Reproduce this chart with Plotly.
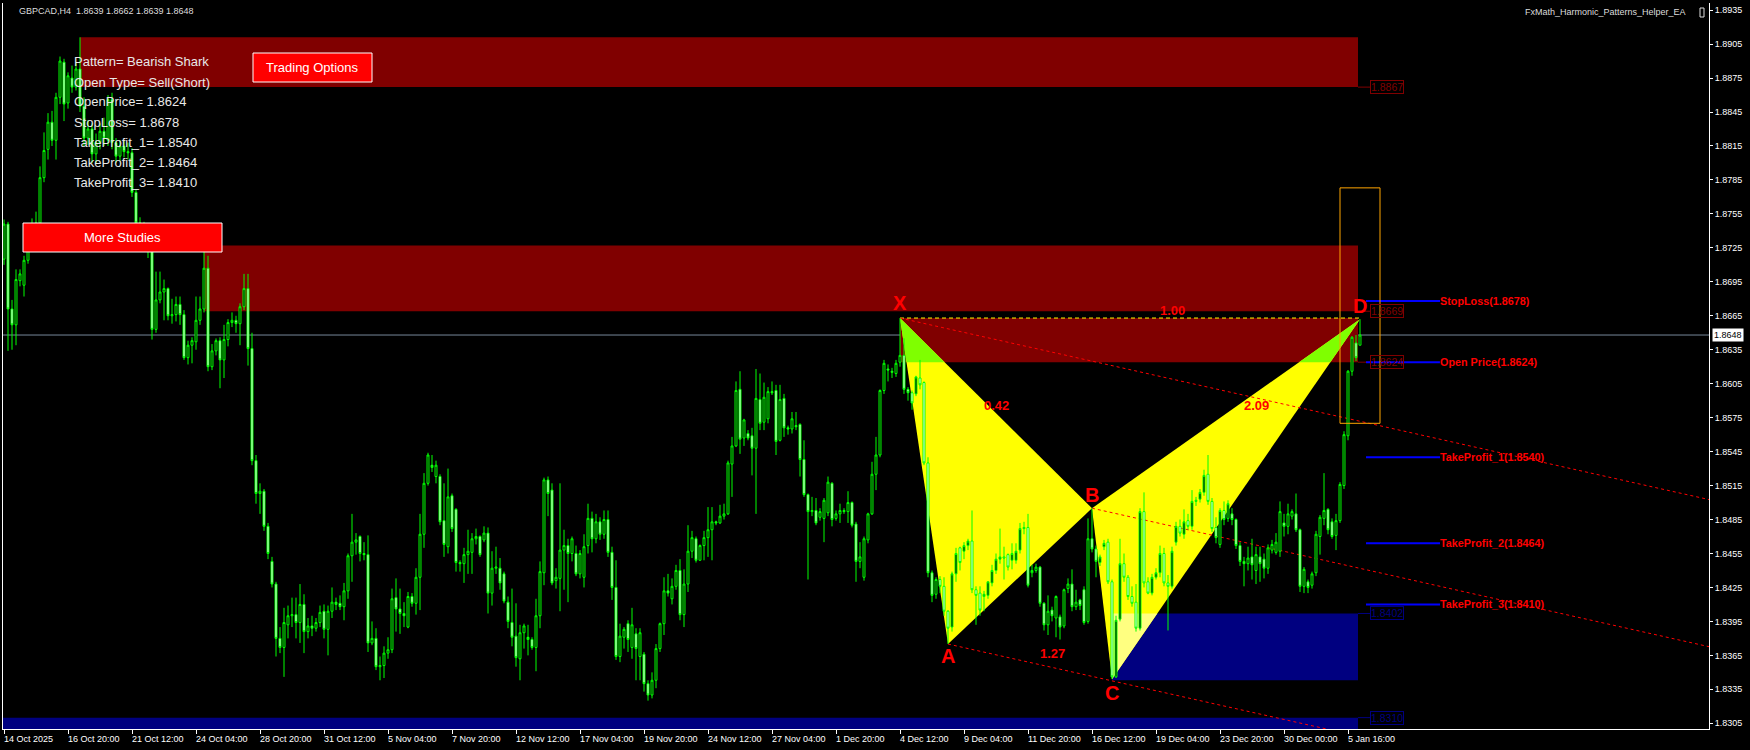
import plotly.graph_objects as go

# ---------------- data ----------------
SYMBOL = "GBPCAD,H4"
EA_NAME = "FxMath_Harmonic_Patterns_Helper_EA"
PATTERN_NAME = "Bearish Shark"
OPEN_TYPE = "Sell(Short)"
PIP_SCALE = 10000.0  # bar values are stored as 1.xxxx -> xxxx

BAR_OPEN = [
    8715, 8746, 8671, 8657, 8696, 8692, 8714, 8728, 8745, 8747, 8787, 8812, 8836, 8820, 8858, 8889, 8853, 8875, 8867, 8883,
    8850, 8822, 8830, 8808, 8818, 8828, 8820, 8856, 8818, 8806, 8815, 8810, 8809, 8774, 8747, 8735, 8740, 8722, 8653, 8679,
    8686, 8689, 8665, 8666, 8675, 8666, 8628, 8639, 8642, 8661, 8671, 8707, 8620, 8634, 8643, 8626, 8644, 8659, 8661, 8658,
    8673, 8689, 8636, 8537, 8508, 8510, 8479, 8448, 8428, 8380, 8372, 8392, 8400, 8401, 8394, 8410, 8386, 8391, 8389, 8394,
    8404, 8388, 8404, 8412, 8411, 8408, 8422, 8453, 8465, 8470, 8455, 8454, 8376, 8380, 8355, 8356, 8367, 8370, 8416, 8406,
    8402, 8390, 8417, 8411, 8434, 8472, 8517, 8533, 8523, 8523, 8484, 8461, 8506, 8494, 8447, 8446, 8454, 8456, 8468, 8470,
    8467, 8473, 8420, 8442, 8442, 8437, 8412, 8394, 8382, 8362, 8385, 8381, 8379, 8372, 8400, 8438, 8520, 8511, 8431, 8433,
    8458, 8462, 8455, 8455, 8437, 8434, 8462, 8486, 8468, 8483, 8472, 8485, 8456, 8425, 8364, 8381, 8393, 8372, 8384, 8364,
    8366, 8340, 8330, 8343, 8371, 8393, 8422, 8415, 8426, 8440, 8401, 8428, 8457, 8468, 8449, 8462, 8469, 8476, 8483, 8482,
    8488, 8490, 8534, 8550, 8600, 8557, 8561, 8559, 8548, 8591, 8571, 8574, 8598, 8599, 8555, 8592, 8566, 8565, 8568, 8569,
    8538, 8507, 8492, 8493, 8487, 8486, 8491, 8517, 8486, 8490, 8493, 8492, 8500, 8481, 8448, 8434, 8467, 8490, 8525, 8542,
    8599, 8618, 8616, 8614, 8624, 8630, 8600, 8597, 8596, 8610, 8606, 8535, 8438, 8419, 8432, 8426, 8404, 8390, 8437, 8460,
    8457, 8462, 8466, 8423, 8420, 8417, 8418, 8429, 8440, 8450, 8452, 8454, 8449, 8449, 8458, 8477, 8478, 8438, 8440, 8443,
    8411, 8392, 8405, 8398, 8399, 8391, 8424, 8428, 8408, 8414, 8423, 8395, 8468, 8459, 8447, 8461, 8465, 8430, 8346, 8397,
    8446, 8434, 8417, 8412, 8389, 8492, 8430, 8420, 8434, 8438, 8455, 8429, 8426, 8465, 8479, 8472, 8484, 8479, 8501, 8503,
    8509, 8525, 8501, 8478, 8463, 8493, 8486, 8490, 8485, 8462, 8448, 8446, 8452, 8440, 8452, 8450, 8442, 8458, 8456, 8457,
    8482, 8479, 8488, 8490, 8476, 8426, 8430, 8427, 8438, 8470, 8486, 8494, 8483, 8471, 8484, 8515, 8559, 8616, 8641, 8639,
]
BAR_HIGH = [
    8750, 8748, 8679, 8706, 8706, 8718, 8732, 8751, 8757, 8797, 8827, 8844, 8846, 8862, 8894, 8892, 8880, 8886, 8888, 8911,
    8858, 8838, 8835, 8826, 8835, 8840, 8860, 8862, 8822, 8820, 8820, 8818, 8813, 8777, 8752, 8748, 8745, 8726, 8704, 8704,
    8697, 8690, 8680, 8682, 8682, 8670, 8643, 8646, 8682, 8682, 8722, 8718, 8640, 8645, 8646, 8657, 8662, 8668, 8665, 8676,
    8702, 8702, 8650, 8542, 8517, 8512, 8482, 8452, 8430, 8390, 8407, 8409, 8416, 8416, 8428, 8419, 8398, 8400, 8398, 8409,
    8410, 8409, 8425, 8416, 8418, 8429, 8455, 8490, 8473, 8471, 8465, 8471, 8395, 8389, 8364, 8373, 8381, 8424, 8433, 8424,
    8412, 8421, 8420, 8442, 8490, 8526, 8544, 8542, 8537, 8525, 8517, 8530, 8508, 8495, 8449, 8460, 8476, 8473, 8477, 8471,
    8479, 8478, 8457, 8461, 8451, 8439, 8417, 8424, 8411, 8392, 8393, 8392, 8381, 8415, 8448, 8522, 8523, 8517, 8442, 8517,
    8476, 8468, 8470, 8462, 8458, 8472, 8499, 8492, 8490, 8487, 8493, 8493, 8461, 8449, 8393, 8390, 8396, 8407, 8389, 8389,
    8368, 8343, 8350, 8375, 8394, 8434, 8437, 8433, 8445, 8450, 8441, 8480, 8475, 8470, 8463, 8475, 8496, 8496, 8484, 8498,
    8499, 8537, 8558, 8607, 8616, 8574, 8564, 8566, 8618, 8614, 8606, 8602, 8607, 8604, 8604, 8596, 8568, 8580, 8580, 8570,
    8555, 8508, 8505, 8504, 8495, 8504, 8523, 8518, 8493, 8499, 8495, 8510, 8501, 8483, 8465, 8470, 8491, 8536, 8558, 8600,
    8626, 8622, 8619, 8626, 8663, 8645, 8602, 8599, 8612, 8626, 8607, 8540, 8440, 8434, 8435, 8434, 8405, 8439, 8460, 8461,
    8465, 8468, 8493, 8426, 8426, 8422, 8430, 8445, 8455, 8477, 8461, 8455, 8464, 8464, 8482, 8483, 8490, 8445, 8446, 8444,
    8412, 8418, 8408, 8418, 8401, 8424, 8433, 8441, 8423, 8415, 8426, 8486, 8495, 8462, 8454, 8467, 8468, 8432, 8400, 8468,
    8455, 8436, 8426, 8428, 8495, 8509, 8434, 8437, 8442, 8462, 8460, 8436, 8461, 8483, 8485, 8494, 8490, 8511, 8505, 8512,
    8529, 8542, 8504, 8487, 8495, 8501, 8502, 8495, 8486, 8465, 8452, 8461, 8468, 8461, 8461, 8455, 8463, 8467, 8473, 8501,
    8490, 8499, 8494, 8508, 8477, 8443, 8432, 8439, 8475, 8489, 8526, 8495, 8486, 8490, 8518, 8563, 8617, 8647, 8648, 8662,
]
BAR_LOW = [
    8710, 8634, 8635, 8639, 8691, 8682, 8711, 8722, 8738, 8742, 8783, 8803, 8815, 8803, 8852, 8837, 8848, 8862, 8864, 8845,
    8815, 8816, 8800, 8800, 8812, 8815, 8815, 8812, 8800, 8802, 8805, 8803, 8770, 8740, 8728, 8725, 8716, 8644, 8650, 8676,
    8661, 8661, 8658, 8660, 8657, 8626, 8622, 8623, 8635, 8657, 8668, 8616, 8617, 8630, 8601, 8610, 8638, 8655, 8650, 8639,
    8670, 8621, 8533, 8499, 8490, 8475, 8450, 8425, 8364, 8367, 8346, 8380, 8390, 8380, 8376, 8367, 8380, 8382, 8386, 8390,
    8380, 8365, 8398, 8405, 8405, 8396, 8415, 8430, 8454, 8448, 8449, 8368, 8374, 8352, 8343, 8345, 8362, 8367, 8386, 8384,
    8390, 8389, 8408, 8401, 8405, 8460, 8515, 8527, 8517, 8480, 8452, 8455, 8474, 8439, 8439, 8429, 8437, 8437, 8463, 8452,
    8465, 8402, 8409, 8437, 8423, 8411, 8389, 8373, 8355, 8343, 8371, 8365, 8370, 8351, 8389, 8427, 8488, 8427, 8424, 8404,
    8423, 8412, 8448, 8435, 8433, 8425, 8455, 8456, 8464, 8467, 8468, 8452, 8414, 8361, 8359, 8371, 8368, 8362, 8343, 8343,
    8333, 8325, 8327, 8336, 8368, 8383, 8417, 8410, 8423, 8396, 8390, 8421, 8451, 8447, 8449, 8449, 8452, 8449, 8480, 8481,
    8485, 8489, 8505, 8549, 8543, 8550, 8555, 8524, 8490, 8564, 8564, 8570, 8595, 8542, 8554, 8558, 8560, 8561, 8564, 8523,
    8505, 8432, 8488, 8480, 8484, 8465, 8488, 8479, 8484, 8482, 8490, 8482, 8478, 8430, 8442, 8431, 8464, 8489, 8511, 8540,
    8596, 8607, 8610, 8611, 8620, 8596, 8590, 8582, 8594, 8600, 8533, 8434, 8412, 8415, 8420, 8400, 8375, 8386, 8430, 8440,
    8450, 8458, 8420, 8392, 8400, 8404, 8415, 8426, 8437, 8446, 8432, 8440, 8441, 8446, 8455, 8472, 8425, 8434, 8438, 8408,
    8387, 8383, 8395, 8381, 8379, 8389, 8420, 8404, 8405, 8405, 8392, 8393, 8456, 8434, 8444, 8458, 8428, 8344, 8345, 8395,
    8430, 8414, 8408, 8386, 8387, 8425, 8419, 8418, 8432, 8434, 8426, 8387, 8424, 8462, 8470, 8468, 8476, 8476, 8497, 8500,
    8506, 8498, 8474, 8464, 8460, 8480, 8483, 8480, 8459, 8444, 8426, 8440, 8432, 8428, 8430, 8433, 8437, 8455, 8454, 8452,
    8470, 8472, 8485, 8474, 8421, 8420, 8420, 8424, 8435, 8454, 8480, 8472, 8468, 8458, 8482, 8512, 8555, 8612, 8625, 8639,
]
BAR_CLOSE = [
    8746, 8671, 8657, 8697, 8702, 8714, 8728, 8745, 8747, 8787, 8811, 8836, 8820, 8858, 8890, 8852, 8877, 8867, 8883, 8850,
    8822, 8830, 8808, 8818, 8828, 8822, 8856, 8818, 8806, 8815, 8810, 8809, 8774, 8747, 8735, 8740, 8722, 8653, 8679, 8686,
    8689, 8665, 8666, 8675, 8666, 8628, 8639, 8643, 8661, 8671, 8707, 8620, 8634, 8643, 8626, 8644, 8659, 8661, 8658, 8673,
    8689, 8636, 8537, 8508, 8510, 8479, 8455, 8428, 8380, 8372, 8394, 8400, 8401, 8394, 8410, 8386, 8391, 8389, 8394, 8403,
    8388, 8404, 8412, 8410, 8408, 8422, 8453, 8465, 8467, 8455, 8454, 8376, 8380, 8355, 8356, 8367, 8370, 8415, 8406, 8402,
    8400, 8417, 8411, 8434, 8472, 8517, 8542, 8531, 8533, 8483, 8463, 8505, 8477, 8447, 8446, 8454, 8457, 8468, 8470, 8454,
    8473, 8420, 8442, 8443, 8429, 8413, 8395, 8381, 8363, 8385, 8391, 8379, 8372, 8400, 8439, 8520, 8508, 8429, 8434, 8458,
    8462, 8455, 8468, 8437, 8455, 8461, 8486, 8468, 8483, 8472, 8485, 8456, 8425, 8364, 8382, 8388, 8379, 8392, 8371, 8385,
    8340, 8330, 8343, 8371, 8393, 8422, 8420, 8426, 8440, 8401, 8428, 8457, 8469, 8449, 8462, 8469, 8476, 8483, 8482, 8488,
    8490, 8535, 8550, 8599, 8556, 8573, 8557, 8548, 8592, 8570, 8593, 8598, 8597, 8554, 8591, 8566, 8565, 8574, 8567, 8538,
    8507, 8492, 8493, 8482, 8492, 8502, 8518, 8485, 8490, 8493, 8492, 8500, 8480, 8448, 8452, 8468, 8490, 8525, 8542, 8599,
    8623, 8617, 8615, 8623, 8630, 8600, 8597, 8588, 8611, 8604, 8535, 8438, 8418, 8432, 8426, 8404, 8389, 8437, 8455, 8447,
    8462, 8466, 8423, 8418, 8405, 8419, 8430, 8440, 8450, 8452, 8451, 8443, 8455, 8457, 8477, 8478, 8427, 8440, 8443, 8411,
    8392, 8404, 8400, 8417, 8390, 8423, 8428, 8408, 8412, 8409, 8394, 8468, 8459, 8448, 8452, 8464, 8430, 8346, 8396, 8446,
    8434, 8417, 8411, 8389, 8492, 8429, 8420, 8434, 8438, 8455, 8429, 8426, 8457, 8479, 8473, 8483, 8479, 8501, 8502, 8509,
    8524, 8501, 8477, 8469, 8493, 8485, 8499, 8485, 8462, 8448, 8446, 8451, 8445, 8454, 8446, 8442, 8460, 8463, 8465, 8492,
    8479, 8490, 8492, 8476, 8426, 8441, 8425, 8437, 8472, 8487, 8493, 8476, 8470, 8484, 8516, 8560, 8616, 8646, 8628, 8648,
]

DATE_TICK_BARS = [0, 16, 32, 48, 64, 80, 96, 112, 128, 144, 160, 176, 192, 208, 224, 240, 256, 272, 288, 304, 320, 336]
DATE_TICK_TEXT = ["14 Oct 2025", "16 Oct 20:00", "21 Oct 12:00", "24 Oct 04:00", "28 Oct 20:00", "31 Oct 12:00",
                  "5 Nov 04:00", "7 Nov 20:00", "12 Nov 12:00", "17 Nov 04:00", "19 Nov 20:00", "24 Nov 12:00",
                  "27 Nov 04:00", "1 Dec 20:00", "4 Dec 12:00", "9 Dec 04:00", "11 Dec 20:00", "16 Dec 12:00",
                  "19 Dec 04:00", "23 Dec 20:00", "30 Dec 00:00", "5 Jan 16:00"]

PRICE_TICKS = [1.8305, 1.8335, 1.8365, 1.8395, 1.8425, 1.8455, 1.8485, 1.8515, 1.8545, 1.8575, 1.8605,
               1.8635, 1.8665, 1.8695, 1.8725, 1.8755, 1.8785, 1.8815, 1.8845, 1.8875, 1.8905, 1.8935]
LAST_PRICE = 1.8648

PATTERN_NAMES = ["X", "A", "B", "C", "D"]
PATTERN_BARS = [224, 236, 272, 277, 339]
PATTERN_PRICES = [1.8663, 1.8375, 1.8495, 1.8344, 1.8662]

RATIO_TEXT = ["0.42", "1.27", "2.09", "1.00"]
RATIO_FROM = ["X", "A", "B", "X"]
RATIO_TO = ["B", "C", "D", "D"]

ZONE_START_BAR = [19, 50, 224, 277, -5]
ZONE_HIGH = [1.8911, 1.8727, 1.8663, 1.8402, 1.8310]
ZONE_LOW = [1.8867, 1.8669, 1.8624, 1.8343, 1.8280]
ZONE_LABEL_PRICE = [1.8867, 1.8669, 1.8624, 1.8402, 1.8310]
ZONE_SIDE = ["sell", "sell", "sell", "buy", "buy"]

TRADE_NAMES = ["StopLoss", "Open Price", "TakeProfit_1", "TakeProfit_2", "TakeProfit_3"]
TRADE_PRICES = [1.8678, 1.8624, 1.8540, 1.8464, 1.8410]

PRZ_BARS = [334, 344]
PRZ_PRICES = [1.8570, 1.8778]

CHANNEL_ANCHORS = ["X", "B", "A"]
CHANNEL_SLOPE = -0.0000793  # price change per bar

# ---------------- styling / geometry ----------------
W, H = 1750, 750
PL, PR, PT, PB = 3, 1709, 3, 729
X_RANGE = [-0.25, 426.25]
Y_RANGE = [1.829996, 1.894130]
FONT = "Liberation Sans, Arial, sans-serif"
LIME = "#00FF00"
RED_TXT = "#FF0000"
MAROON = "#800000"
NAVY = "#000080"
YELLOW = "#FFFF00"


def to_price(v):
    return round(1 + v / PIP_SCALE, 4)


def paper_x(px):
    return (px - PL) / (PR - PL)


def paper_y(py):
    return (PB - py) / (PB - PT)


def hex_rgb(col):
    col = col.lstrip("#")
    return tuple(int(col[i:i + 2], 16) for i in (0, 2, 4))


def xor_color(a, b):
    ra, rb = hex_rgb(a), hex_rgb(b)
    return "#%02X%02X%02X" % tuple(x ^ y for x, y in zip(ra, rb))


def clip_polygon(poly, x0, x1, y0, y1):
    def clip(points, inside, inter):
        out = []
        for i in range(len(points)):
            cur, prev = points[i], points[i - 1]
            if inside(cur):
                if not inside(prev):
                    out.append(inter(prev, cur))
                out.append(cur)
            elif inside(prev):
                out.append(inter(prev, cur))
        return out

    def ix(cv):
        return lambda p, q: (cv, p[1] + (cv - p[0]) * (q[1] - p[1]) / (q[0] - p[0]))

    def iy(cv):
        return lambda p, q: (p[0] + (cv - p[1]) * (q[0] - p[0]) / (q[1] - p[1]), cv)

    pts = list(poly)
    for inside, inter in [(lambda p: p[0] >= x0, ix(x0)), (lambda p: p[0] <= x1, ix(x1)),
                          (lambda p: p[1] >= y0, iy(y0)), (lambda p: p[1] <= y1, iy(y1))]:
        if not pts:
            break
        pts = clip(pts, inside, inter)
    return pts


def path_of(pts):
    return "M " + " L ".join(f"{x},{y}" for x, y in pts) + " Z"


n = len(BAR_CLOSE)
bars = list(range(n))
o = [to_price(v) for v in BAR_OPEN]
c = [to_price(v) for v in BAR_CLOSE]
h = [max(to_price(v), oo, cc) for v, oo, cc in zip(BAR_HIGH, o, c)]
l = [min(to_price(v), oo, cc) for v, oo, cc in zip(BAR_LOW, o, c)]

pt = {k: (b, p) for k, b, p in zip(PATTERN_NAMES, PATTERN_BARS, PATTERN_PRICES)}
d_bar = pt["D"][0]
zone_end = d_bar - 0.5

fig = go.Figure()
fig.add_trace(go.Candlestick(
    x=bars, open=o, high=h, low=l, close=c,
    increasing=dict(line=dict(color=LIME, width=1), fillcolor="#000000"),
    decreasing=dict(line=dict(color=LIME, width=1), fillcolor="#FFFFFF"),
    whiskerwidth=0, showlegend=False, hoverinfo="skip"))

shapes = []
annotations = []

# zones
zone_rects = []
for sb, hi, lo, side in zip(ZONE_START_BAR, ZONE_HIGH, ZONE_LOW, ZONE_SIDE):
    col = MAROON if side == "sell" else NAVY
    zone_rects.append((sb, zone_end, lo, hi, col))
    shapes.append(dict(type="rect", xref="x", yref="y", x0=sb, x1=zone_end, y0=lo, y1=hi,
                       fillcolor=col, line=dict(width=0), layer="below"))

# pattern triangles (XOR-style colour where they overlap a zone)
triangles = [[pt["X"], pt["A"], pt["B"]], [pt["B"], pt["C"], pt["D"]]]
for tri in triangles:
    shapes.append(dict(type="path", xref="x", yref="y", path=path_of(tri),
                       fillcolor=YELLOW, line=dict(width=0), layer="below"))
for tri in triangles:
    for (x0, x1, y0, y1, col) in zone_rects:
        clipped = clip_polygon(tri, x0, x1, y0, y1)
        if len(clipped) >= 3:
            shapes.append(dict(type="path", xref="x", yref="y", path=path_of(clipped),
                               fillcolor=xor_color(YELLOW, col), line=dict(width=0), layer="below"))

# last price line
shapes.append(dict(type="line", xref="paper", yref="y", x0=0, x1=1, y0=LAST_PRICE, y1=LAST_PRICE,
                   line=dict(color="#778899", width=1), layer="below"))

# X-D dashed level
shapes.append(dict(type="line", xref="x", yref="y", x0=pt["X"][0], x1=pt["D"][0],
                   y0=pt["X"][1], y1=pt["X"][1], line=dict(color=YELLOW, width=1, dash="4px,3px"), layer="below"))

# channel rays
for k in CHANNEL_ANCHORS:
    b0, p0 = pt[k]
    b1 = X_RANGE[1]
    shapes.append(dict(type="line", xref="x", yref="y", x0=b0, y0=p0, x1=b1,
                       y1=p0 + CHANNEL_SLOPE * (b1 - b0),
                       line=dict(color="#FF0000", width=1, dash="3px,3px"), layer="below"))

# zone price labels
for lp, side in zip(ZONE_LABEL_PRICE, ZONE_SIDE):
    col = MAROON if side == "sell" else NAVY
    shapes.append(dict(type="line", xref="x", yref="y", x0=zone_end, x1=zone_end + 3, y0=lp, y1=lp,
                       line=dict(color=col, width=1)))
    annotations.append(dict(x=zone_end + 3, y=lp, xref="x", yref="y", text=f"{lp:.4f}", showarrow=False,
                            xanchor="left", yanchor="middle", font=dict(family=FONT, size=10.5, color=col),
                            bordercolor=col, borderwidth=1, borderpad=0))

# trade levels
for name, price in zip(TRADE_NAMES, TRADE_PRICES):
    shapes.append(dict(type="line", xref="x", yref="y", x0=d_bar + 1.5, x1=d_bar + 20, y0=price, y1=price,
                       line=dict(color="#0000FF", width=2)))
    annotations.append(dict(x=d_bar + 20, y=price, xref="x", yref="y", text=f"<b>{name}({price:.4f})</b>",
                            showarrow=False, xanchor="left", yanchor="middle", xshift=-2,
                            font=dict(family=FONT, size=10.8, color=RED_TXT)))

# PRZ box
shapes.append(dict(type="rect", xref="x", yref="y", x0=PRZ_BARS[0], x1=PRZ_BARS[1],
                   y0=PRZ_PRICES[0], y1=PRZ_PRICES[1], line=dict(color="#FFA500", width=1),
                   fillcolor="rgba(0,0,0,0)", layer="above"))

# pattern point labels
label_shift = {"X": 15, "A": -12, "B": 13, "C": -14, "D": 13}
for k in PATTERN_NAMES:
    b, p = pt[k]
    annotations.append(dict(x=b, y=p, xref="x", yref="y", text=f"<b>{k}</b>", showarrow=False,
                            xanchor="center", yanchor="middle", yshift=label_shift[k],
                            font=dict(family=FONT, size=20, color=RED_TXT)))

# ratio labels
ratio_xshift = {"0.42": 0, "1.27": 22, "2.09": 30, "1.00": 42}
for txt, a, b in zip(RATIO_TEXT, RATIO_FROM, RATIO_TO):
    mx = (pt[a][0] + pt[b][0]) / 2
    my = (pt[a][1] + pt[b][1]) / 2
    annotations.append(dict(x=mx, y=my, xref="x", yref="y", text=f"<b>{txt}</b>", showarrow=False,
                            xanchor="center", yanchor="middle", xshift=ratio_xshift[txt], yshift=8,
                            font=dict(family=FONT, size=13, color=RED_TXT)))

# date labels (left aligned at tick)
for b, txt in zip(DATE_TICK_BARS, DATE_TICK_TEXT):
    annotations.append(dict(x=b, y=0, xref="x", yref="paper", text=txt, showarrow=False,
                            xanchor="left", yanchor="top", xshift=-2, yshift=-3,
                            font=dict(family=FONT, size=9, color="#FFFFFF")))

# current price tag on the axis
annotations.append(dict(x=paper_x(1712), y=LAST_PRICE, xref="paper", yref="y", text=f"{LAST_PRICE:.4f}",
                        showarrow=False, xanchor="left", yanchor="middle", bgcolor="#FFFFFF",
                        font=dict(family=FONT, size=9, color="#000000"), borderpad=1))

# header
annotations.append(dict(x=paper_x(17), y=paper_y(11), xref="paper", yref="paper",
                        text=f"{SYMBOL}  {to_price(BAR_OPEN[-1]):.4f} {to_price(BAR_HIGH[-1]):.4f} "
                             f"{to_price(BAR_LOW[-1]):.4f} {to_price(BAR_CLOSE[-1]):.4f}",
                        showarrow=False, xanchor="left", yanchor="middle",
                        font=dict(family=FONT, size=9, color="#DDDDDD")))
annotations.append(dict(x=paper_x(1688), y=paper_y(12), xref="paper", yref="paper", text=EA_NAME,
                        showarrow=False, xanchor="right", yanchor="middle",
                        font=dict(family=FONT, size=9, color="#DDDDDD")))
shapes.append(dict(type="rect", xref="paper", yref="paper", x0=paper_x(1700), x1=paper_x(1704),
                   y0=paper_y(17), y1=paper_y(8), line=dict(color="#DDDDDD", width=1)))

# info block
info = [f"Pattern= {PATTERN_NAME}", f"Open Type= {OPEN_TYPE}",
        f"OpenPrice= {TRADE_PRICES[1]:.4f}", f"StopLoss= {TRADE_PRICES[0]:.4f}",
        f"TakeProfit_1= {TRADE_PRICES[2]:.4f}", f"TakeProfit_2= {TRADE_PRICES[3]:.4f}",
        f"TakeProfit_3= {TRADE_PRICES[4]:.4f}"]
for i, txt in enumerate(info):
    annotations.append(dict(x=paper_x(72), y=paper_y(62 + 20 * i), xref="paper", yref="paper", text=txt,
                            showarrow=False, xanchor="left", yanchor="middle",
                            font=dict(family=FONT, size=13, color="#E8E8E8")))

# buttons
for (x0, x1, y0, y1, txt) in [(253, 372, 53, 82, "Trading Options"), (23, 222, 223, 252, "More Studies")]:
    shapes.append(dict(type="rect", xref="paper", yref="paper", x0=paper_x(x0), x1=paper_x(x1),
                       y0=paper_y(y1), y1=paper_y(y0), fillcolor="#FF0000",
                       line=dict(color="#FFFFFF", width=1), layer="above"))
    annotations.append(dict(x=paper_x((x0 + x1) / 2), y=paper_y((y0 + y1) / 2), xref="paper", yref="paper",
                            text=txt, showarrow=False, xanchor="center", yanchor="middle",
                            font=dict(family=FONT, size=13, color="#FFFFFF")))

fig.update_layout(
    width=W, height=H, margin=dict(l=PL, r=W - PR, t=PT, b=H - PB),
    paper_bgcolor="#000000", plot_bgcolor="#000000", showlegend=False,
    shapes=shapes, annotations=annotations,
    xaxis=dict(range=X_RANGE, showgrid=False, zeroline=False, showline=True, linecolor="#FFFFFF", linewidth=1,
               tickmode="array", tickvals=DATE_TICK_BARS, ticks="outside", ticklen=4, tickcolor="#FFFFFF",
               showticklabels=False, rangeslider=dict(visible=False), fixedrange=True),
    yaxis=dict(range=Y_RANGE, side="right", showgrid=False, zeroline=False, showline=True, mirror=True,
               linecolor="#FFFFFF", linewidth=1, tickmode="array", tickvals=PRICE_TICKS,
               ticktext=[f"{v:.4f}" for v in PRICE_TICKS], ticks="outside", ticklen=3, tickcolor="#FFFFFF",
               tickfont=dict(family=FONT, size=9, color="#FFFFFF"), fixedrange=True),
)

fig.write_html("out.html", config={"displayModeBar": False},
               post_script="document.body.style.margin='0px';document.body.style.background='#000000';"
                           "document.body.style.overflow='hidden';")
